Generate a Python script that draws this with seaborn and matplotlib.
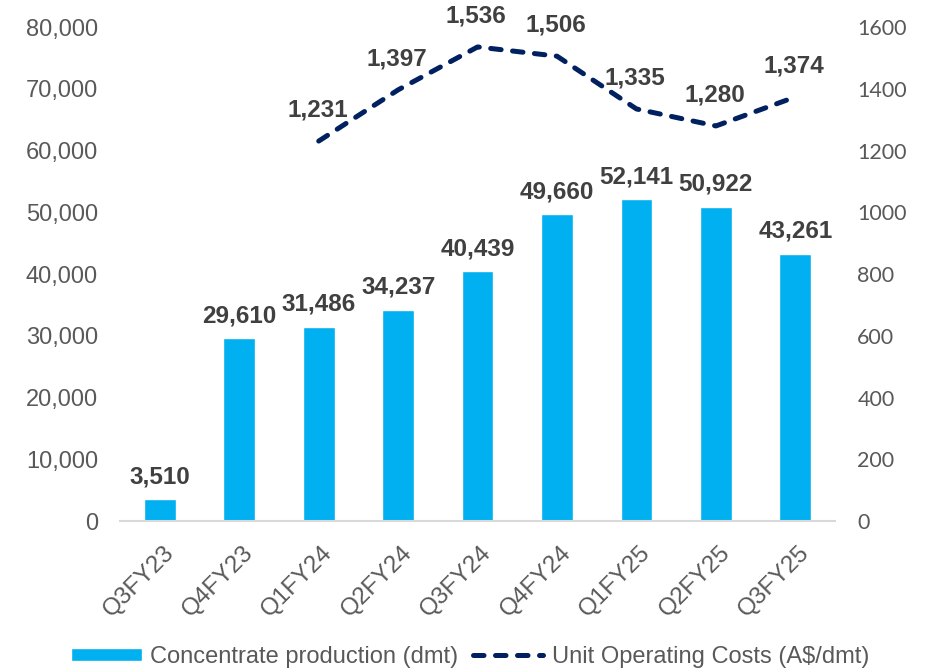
import numpy as np
import pandas as pd
import matplotlib
matplotlib.use("Agg")
import matplotlib.pyplot as plt
import matplotlib.transforms as mtransforms
import seaborn as sns
from matplotlib.ticker import FuncFormatter, MultipleLocator

# Data
quarters = ["Q3FY23", "Q4FY23", "Q1FY24", "Q2FY24", "Q3FY24",
            "Q4FY24", "Q1FY25", "Q2FY25", "Q3FY25"]
production = [3510, 29610, 31486, 34237, 40439, 49660, 52141, 50922, 43261]
unit_costs = [np.nan, np.nan, 1231, 1397, 1536, 1506, 1335, 1280, 1374]

bar_color = "#00B0F0"
line_color = "#002060"
text_color = "#595959"
label_color = "#404040"

sns.set_style("white")
plt.rcParams["font.family"] = ["Liberation Sans", "DejaVu Sans"]

df = pd.DataFrame({"quarter": quarters, "production": production,
                   "cost": unit_costs})
df["pos"] = np.arange(len(df))

fig = plt.figure(figsize=(9.31, 6.71), dpi=100)
ax = fig.add_axes([0.129, 0.2235, 0.768, 0.736])

sns.barplot(data=df, x="quarter", y="production", color=bar_color,
            width=0.4, saturation=1, ax=ax, label="Concentrate production (dmt)")
if ax.get_legend() is not None:
    ax.get_legend().remove()
ax.set_ylim(0, 80000)
ax.set_xlim(-0.5, len(df) - 0.5)
ax.yaxis.set_major_locator(MultipleLocator(10000))
ax.yaxis.set_major_formatter(FuncFormatter(lambda v, p: f"{v:,.0f}"))
ax.set_xlabel("")
ax.set_ylabel("")
ax.tick_params(axis="y", length=0, labelsize=17, labelcolor=text_color, pad=16)
ax.tick_params(axis="x", length=0, labelsize=17.5, labelcolor=text_color, pad=15)
shift = mtransforms.ScaledTranslation(0.03, 0, fig.dpi_scale_trans)
for t in ax.get_xticklabels():
    t.set_rotation(45)
    t.set_ha("right")
    t.set_rotation_mode("anchor")
    t.set_transform(t.get_transform() + shift)
for s in ["top", "left", "right"]:
    ax.spines[s].set_visible(False)
ax.spines["bottom"].set_color("#D9D9D9")
ax.spines["bottom"].set_linewidth(1.5)

for _, r in df.iterrows():
    ax.annotate(f"{r['production']:,.0f}", (r["pos"], r["production"]),
                xytext=(0, 8), textcoords="offset points", ha="center",
                va="bottom", fontsize=17.5, fontweight="bold", color=label_color)

ax2 = ax.twinx()
sns.lineplot(data=df.dropna(), x="pos", y="cost", ax=ax2, color=line_color,
             linewidth=3.6, label="Unit Operating Costs (A$/dmt)", legend=False)
ax2.lines[0].set_dashes((2.1, 2.3))
ax2.lines[0].set_dash_capstyle("round")
ax2.set_ylim(0, 1600)
ax2.set_xlim(-0.5, len(df) - 0.5)
ax2.yaxis.set_major_locator(MultipleLocator(200))
ax2.set_ylabel("")
ax2.set_xlabel("")
ax2.tick_params(axis="y", length=0, labelsize=15.5, labelcolor=text_color, pad=16)
for t in ax2.get_yticklabels():
    t.set_family(["Lato", "DejaVu Sans"])
for s in ["top", "left", "right", "bottom"]:
    ax2.spines[s].set_visible(False)

for _, r in df.dropna().iterrows():
    ax2.annotate(f"{r['cost']:,.0f}", (r["pos"], r["cost"]),
                 xytext=(-1, 14), textcoords="offset points", ha="center",
                 va="bottom", fontsize=17.5, fontweight="bold", color=label_color)

h1, l1 = ax.get_legend_handles_labels()
h2, l2 = ax2.get_legend_handles_labels()
fig.legend(h1 + h2, l1 + l2, loc="center", bbox_to_anchor=(0.505, 0.021),
           ncol=2, frameon=False, fontsize=17, labelcolor=text_color,
           handlelength=3.0, handleheight=0.5, columnspacing=0.6,
           handletextpad=0.35)

fig.savefig("out.png", dpi=100)
